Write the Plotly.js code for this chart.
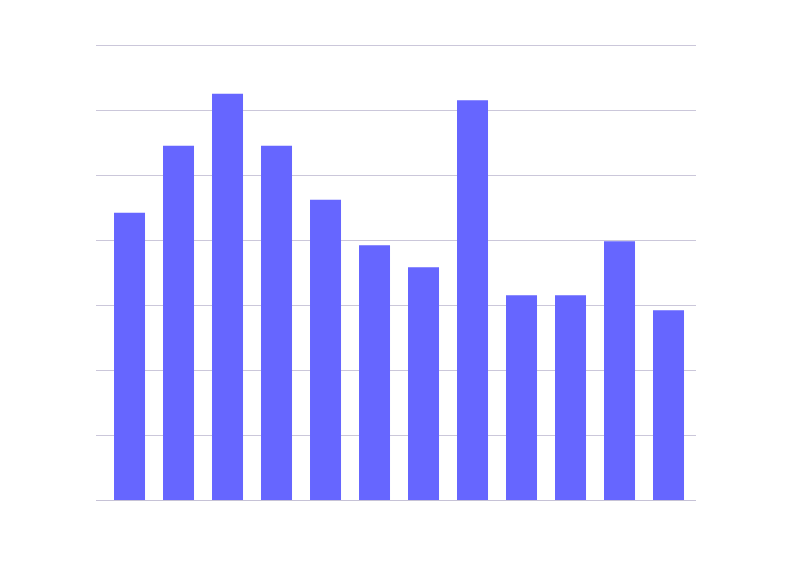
<!DOCTYPE html>
<html>
<head>
<meta charset="utf-8">
<script src="https://cdn.plot.ly/plotly-3.0.1.min.js"></script>
<style>html,body{margin:0;padding:0;background:#fff;}#chart{width:793px;height:564px;}</style>
</head>
<body>
<div id="chart"></div>
<script>
var categories = ["A","B","C","D","E","F","G","H","I","J","K","L"];
var values = [44.2, 54.5, 62.5, 54.5, 46.2, 39.2, 35.8, 61.5, 31.5, 31.5, 39.8, 29.2];
var yMax = 70;

var trace = {
  type: "bar",
  x: categories,
  y: values,
  marker: {color: "#6666ff"},
  hoverinfo: "skip"
};

var plotH = 564 - 45 - 64;
var topLine = 1 - 0.5 / plotH;

var layout = {
  width: 793,
  height: 564,
  margin: {l: 96, r: 97, t: 45, b: 64, pad: 0},
  paper_bgcolor: "#ffffff",
  plot_bgcolor: "#ffffff",
  showlegend: false,
  bargap: 0.367,
  xaxis: {
    type: "category",
    range: [-0.684, 11.561],
    showticklabels: false,
    showgrid: false,
    zeroline: false,
    showline: false,
    ticks: ""
  },
  yaxis: {
    range: [0, yMax],
    dtick: 10,
    tick0: 0,
    showticklabels: false,
    showgrid: true,
    gridcolor: "#cbc7da",
    gridwidth: 1,
    zeroline: true,
    zerolinecolor: "#c6c2d6",
    zerolinewidth: 1,
    showline: false,
    ticks: ""
  },
  shapes: [{
    type: "line", layer: "below",
    xref: "paper", x0: 0, x1: 1,
    yref: "paper", y0: topLine, y1: topLine,
    line: {color: "#cbc7da", width: 1}
  }]
};

Plotly.newPlot("chart", [trace], layout, {displayModeBar: false, staticPlot: true});
</script>
</body>
</html>
